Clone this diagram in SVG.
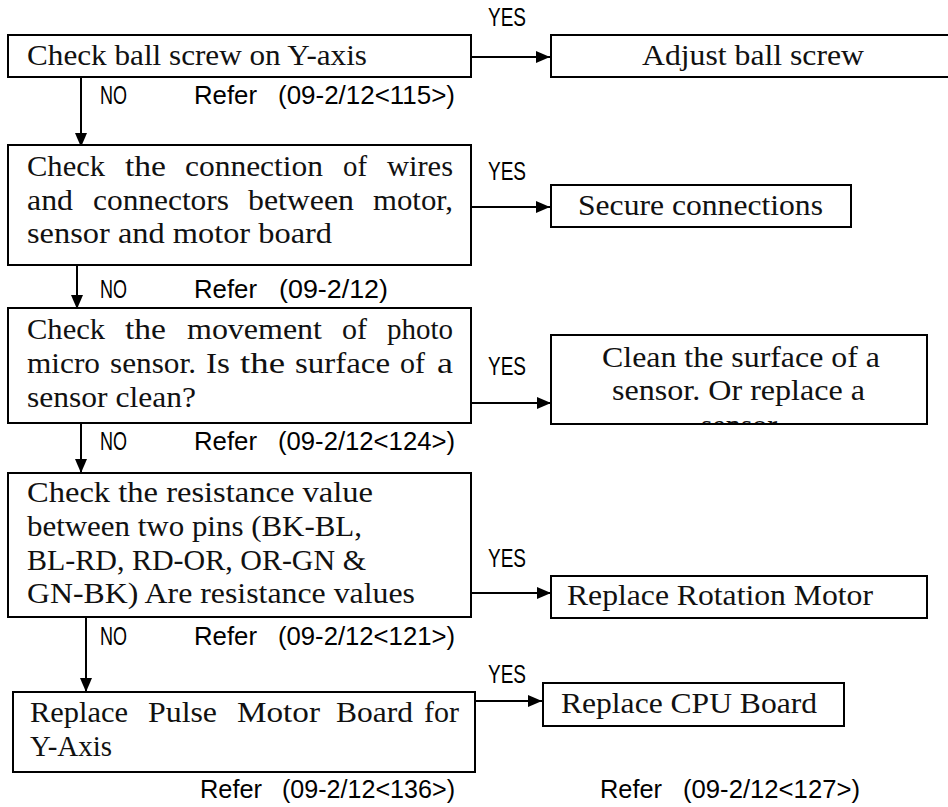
<svg xmlns="http://www.w3.org/2000/svg" width="948" height="807" viewBox="0 0 948 807">
<style>
.box{fill:#fff;stroke:#000;stroke-width:2}
.t{font-family:"Liberation Serif","Times New Roman",serif;font-size:30px;fill:#111}
.g{font-family:"Liberation Sans",Arial,sans-serif;font-size:26px;fill:#000}
.c{fill:none;stroke:#000;stroke-width:2}
</style>
<defs>
<marker id="ah" viewBox="0 0 14 12" refX="14" refY="6" markerWidth="14" markerHeight="12" markerUnits="userSpaceOnUse" orient="auto">
<path d="M0,0 L14,6 L0,12 Z" fill="#000"/>
</marker>
<clipPath id="cleanClip"><rect x="552" y="336" width="374" height="87"/></clipPath>
</defs>
<rect width="948" height="807" fill="#fff"/>

<g id="connectors">
<line class="c" x1="81" y1="77" x2="81" y2="147" marker-end="url(#ah)"/>
<line class="c" x1="471" y1="57" x2="550" y2="57" marker-end="url(#ah)"/>
<line class="c" x1="471" y1="207" x2="550" y2="207" marker-end="url(#ah)"/>
<line class="c" x1="77" y1="265" x2="77" y2="309" marker-end="url(#ah)"/>
<line class="c" x1="471" y1="403" x2="551" y2="403" marker-end="url(#ah)"/>
<line class="c" x1="81" y1="423" x2="81" y2="473" marker-end="url(#ah)"/>
<line class="c" x1="471" y1="593" x2="551" y2="593" marker-end="url(#ah)"/>
<line class="c" x1="86" y1="617" x2="86" y2="692" marker-end="url(#ah)"/>
<line class="c" x1="472" y1="701" x2="542" y2="701" marker-end="url(#ah)"/>
<text class="g" x="488" y="26" textLength="38" lengthAdjust="spacingAndGlyphs">YES</text>
<text class="g" x="100" y="104" textLength="27" lengthAdjust="spacingAndGlyphs">NO</text>
<text class="g" x="194" y="104" textLength="63" lengthAdjust="spacingAndGlyphs">Refer</text>
<text class="g" x="278" y="104" textLength="177" lengthAdjust="spacingAndGlyphs">(09-2/12&lt;115&gt;)</text>
<text class="g" x="488" y="180" textLength="38" lengthAdjust="spacingAndGlyphs">YES</text>
<text class="g" x="100" y="298" textLength="27" lengthAdjust="spacingAndGlyphs">NO</text>
<text class="g" x="194" y="298" textLength="63" lengthAdjust="spacingAndGlyphs">Refer</text>
<text class="g" x="279" y="298" textLength="109" lengthAdjust="spacingAndGlyphs">(09-2/12)</text>
<text class="g" x="488" y="375" textLength="38" lengthAdjust="spacingAndGlyphs">YES</text>
<text class="g" x="100" y="450" textLength="27" lengthAdjust="spacingAndGlyphs">NO</text>
<text class="g" x="194" y="450" textLength="63" lengthAdjust="spacingAndGlyphs">Refer</text>
<text class="g" x="278" y="450" textLength="177" lengthAdjust="spacingAndGlyphs">(09-2/12&lt;124&gt;)</text>
<text class="g" x="488" y="567" textLength="38" lengthAdjust="spacingAndGlyphs">YES</text>
<text class="g" x="100" y="645" textLength="27" lengthAdjust="spacingAndGlyphs">NO</text>
<text class="g" x="194" y="645" textLength="63" lengthAdjust="spacingAndGlyphs">Refer</text>
<text class="g" x="278" y="645" textLength="177" lengthAdjust="spacingAndGlyphs">(09-2/12&lt;121&gt;)</text>
<text class="g" x="488" y="683" textLength="38" lengthAdjust="spacingAndGlyphs">YES</text>
<text class="g" x="200" y="798" textLength="62" lengthAdjust="spacingAndGlyphs">Refer</text>
<text class="g" x="282" y="798" textLength="173" lengthAdjust="spacingAndGlyphs">(09-2/12&lt;136&gt;)</text>
<text class="g" x="600" y="798" textLength="62" lengthAdjust="spacingAndGlyphs">Refer</text>
<text class="g" x="683" y="798" textLength="177" lengthAdjust="spacingAndGlyphs">(09-2/12&lt;127&gt;)</text>
</g>

<g id="check-ball-screw">
<rect class="box" x="8" y="35" width="463" height="42"/>
<text class="t" x="27" y="65" textLength="340" lengthAdjust="spacingAndGlyphs">Check ball screw on Y-axis</text>
</g>

<g id="adjust-ball-screw">
<rect class="box" x="551" y="35" width="420" height="42"/>
<text class="t" x="642" y="65" textLength="222" lengthAdjust="spacingAndGlyphs">Adjust ball screw</text>
</g>

<g id="check-connection">
<rect class="box" x="8" y="145" width="463" height="120"/>
<text class="t" x="27" y="176" textLength="78" lengthAdjust="spacingAndGlyphs">Check</text>
<text class="t" x="125" y="176" textLength="41" lengthAdjust="spacingAndGlyphs">the</text>
<text class="t" x="185" y="176" textLength="138" lengthAdjust="spacingAndGlyphs">connection</text>
<text class="t" x="343" y="176" textLength="24" lengthAdjust="spacingAndGlyphs">of</text>
<text class="t" x="387" y="176" textLength="66" lengthAdjust="spacingAndGlyphs">wires</text>
<text class="t" x="27" y="210" textLength="46" lengthAdjust="spacingAndGlyphs">and</text>
<text class="t" x="93" y="210" textLength="136" lengthAdjust="spacingAndGlyphs">connectors</text>
<text class="t" x="248" y="210" textLength="106" lengthAdjust="spacingAndGlyphs">between</text>
<text class="t" x="373" y="210" textLength="80" lengthAdjust="spacingAndGlyphs">motor,</text>
<text class="t" x="27" y="243" textLength="305" lengthAdjust="spacingAndGlyphs">sensor and motor board</text>
</g>

<g id="secure-connections">
<rect class="box" x="551" y="185" width="300" height="42"/>
<text class="t" x="578" y="215" textLength="245" lengthAdjust="spacingAndGlyphs">Secure connections</text>
</g>

<g id="check-photo-sensor">
<rect class="box" x="8" y="308" width="463" height="115"/>
<text class="t" x="27" y="339" textLength="78" lengthAdjust="spacingAndGlyphs">Check</text>
<text class="t" x="125" y="339" textLength="41" lengthAdjust="spacingAndGlyphs">the</text>
<text class="t" x="187" y="339" textLength="135" lengthAdjust="spacingAndGlyphs">movement</text>
<text class="t" x="342" y="339" textLength="25" lengthAdjust="spacingAndGlyphs">of</text>
<text class="t" x="387" y="339" textLength="66" lengthAdjust="spacingAndGlyphs">photo</text>
<text class="t" x="27" y="373" textLength="73" lengthAdjust="spacingAndGlyphs">micro</text>
<text class="t" x="110" y="373" textLength="86" lengthAdjust="spacingAndGlyphs">sensor.</text>
<text class="t" x="206" y="373" textLength="24" lengthAdjust="spacingAndGlyphs">Is</text>
<text class="t" x="240" y="373" textLength="45" lengthAdjust="spacingAndGlyphs">the</text>
<text class="t" x="295" y="373" textLength="95" lengthAdjust="spacingAndGlyphs">surface</text>
<text class="t" x="400" y="373" textLength="25" lengthAdjust="spacingAndGlyphs">of</text>
<text class="t" x="437" y="373" textLength="16" lengthAdjust="spacingAndGlyphs">a</text>
<text class="t" x="27" y="407" textLength="169" lengthAdjust="spacingAndGlyphs">sensor clean?</text>
</g>

<g id="clean-sensor">
<rect class="box" x="551" y="335" width="376" height="89"/>
<text class="t" x="602" y="367" textLength="278" lengthAdjust="spacingAndGlyphs">Clean the surface of a</text>
<text class="t" x="612" y="400" textLength="253" lengthAdjust="spacingAndGlyphs">sensor. Or replace a</text>
<g clip-path="url(#cleanClip)">
<text class="t" x="739" y="435" text-anchor="middle">sensor</text>
</g>
</g>

<g id="check-resistance">
<rect class="box" x="8" y="473" width="463" height="144"/>
<text class="t" x="27" y="502" textLength="346" lengthAdjust="spacingAndGlyphs">Check the resistance value</text>
<text class="t" x="27" y="536" textLength="335" lengthAdjust="spacingAndGlyphs">between two pins (BK-BL,</text>
<text class="t" x="27" y="570" textLength="339" lengthAdjust="spacingAndGlyphs">BL-RD, RD-OR, OR-GN &amp;</text>
<text class="t" x="27" y="603" textLength="388" lengthAdjust="spacingAndGlyphs">GN-BK) Are resistance values</text>
</g>

<g id="replace-rotation-motor">
<rect class="box" x="551" y="576" width="376" height="42"/>
<text class="t" x="567" y="605" textLength="306" lengthAdjust="spacingAndGlyphs">Replace Rotation Motor</text>
</g>

<g id="replace-pulse-board">
<rect class="box" x="13" y="692" width="462" height="80"/>
<text class="t" x="30" y="722" textLength="98" lengthAdjust="spacingAndGlyphs">Replace</text>
<text class="t" x="148" y="722" textLength="69" lengthAdjust="spacingAndGlyphs">Pulse</text>
<text class="t" x="237" y="722" textLength="83" lengthAdjust="spacingAndGlyphs">Motor</text>
<text class="t" x="336" y="722" textLength="77" lengthAdjust="spacingAndGlyphs">Board</text>
<text class="t" x="424" y="722" textLength="35" lengthAdjust="spacingAndGlyphs">for</text>
<text class="t" x="30" y="756" textLength="82" lengthAdjust="spacingAndGlyphs">Y-Axis</text>
</g>

<g id="replace-cpu-board">
<rect class="box" x="543" y="683" width="301" height="43"/>
<text class="t" x="561" y="713" textLength="256" lengthAdjust="spacingAndGlyphs">Replace CPU Board</text>
</g>
</svg>
